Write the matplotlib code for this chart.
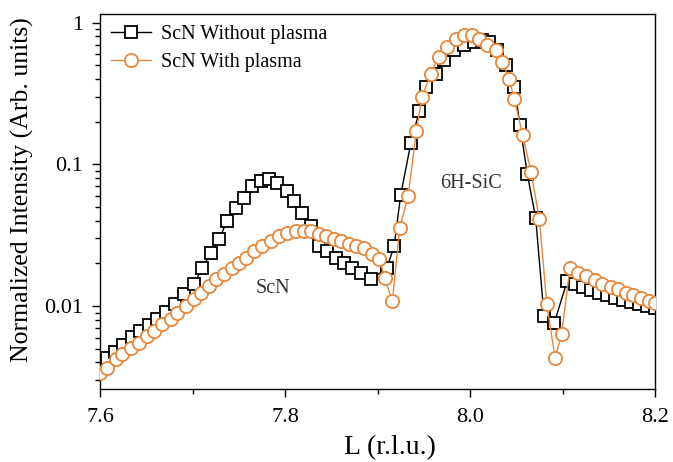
import matplotlib
matplotlib.use('Agg')
import matplotlib.pyplot as plt
from matplotlib.ticker import LogLocator, FixedLocator, NullFormatter

plt.rcParams['font.family'] = ['Liberation Serif', 'DejaVu Serif']

# ScN without plasma (black squares)
L_without = [7.600, 7.608, 7.616, 7.625, 7.635, 7.643, 7.653, 7.662, 7.671, 7.681,
             7.691, 7.702, 7.710, 7.720, 7.729, 7.737, 7.747, 7.756, 7.764, 7.774,
             7.783, 7.791, 7.802, 7.810, 7.818, 7.828, 7.837, 7.845, 7.855, 7.864,
             7.872, 7.882, 7.893,
             7.910, 7.918, 7.925, 7.936, 7.945, 7.952, 7.963, 7.972, 7.983, 7.994,
             8.004, 8.013, 8.021, 8.029, 8.039, 8.048, 8.054, 8.062, 8.071, 8.080,
             8.091, 8.105, 8.114, 8.122, 8.131, 8.139, 8.148, 8.157, 8.165, 8.174,
             8.183, 8.191, 8.200]
I_without = [0.00391, 0.00431, 0.00474, 0.00531, 0.00605, 0.00667, 0.00735, 0.00810, 0.00908, 0.01033,
             0.0122, 0.0143, 0.0185, 0.0236, 0.0296, 0.0397, 0.0490, 0.0576, 0.0700, 0.0759,
             0.0784, 0.0735, 0.0645, 0.0549, 0.0452, 0.0366, 0.0265, 0.0244, 0.0218, 0.0201,
             0.0185, 0.0171, 0.0155,
             0.0185, 0.0265, 0.0605, 0.141, 0.236, 0.354, 0.437, 0.549, 0.645, 0.700,
             0.735, 0.759, 0.735, 0.645, 0.506, 0.354, 0.188, 0.085, 0.0417, 0.00851,
             0.00759, 0.0150, 0.0143, 0.0136, 0.0130, 0.0124, 0.0119, 0.0114, 0.0110, 0.0107,
             0.0103, 0.0100, 0.0097]

# ScN with plasma (orange circles)
L_with = [7.600, 7.608, 7.617, 7.624, 7.634, 7.642, 7.651, 7.658, 7.667, 7.677,
          7.683, 7.693, 7.702, 7.709, 7.718, 7.725, 7.734, 7.743, 7.750, 7.758,
          7.766, 7.775, 7.785, 7.794, 7.802, 7.812, 7.821, 7.828, 7.837, 7.844,
          7.853, 7.861, 7.869, 7.877, 7.885, 7.894, 7.902, 7.908, 7.916,
          7.924, 7.933, 7.942, 7.948, 7.958, 7.966, 7.975, 7.985, 7.994, 8.002,
          8.010, 8.018, 8.028, 8.035, 8.042, 8.048, 8.057, 8.066, 8.075, 8.083,
          8.092, 8.099, 8.108, 8.117, 8.125, 8.135, 8.143, 8.152, 8.160, 8.169,
          8.176, 8.185, 8.194, 8.200]
I_with = [0.00337, 0.00366, 0.00423, 0.00459, 0.00506, 0.00549, 0.00615, 0.00667, 0.00747, 0.00810,
          0.00893, 0.0100, 0.0112, 0.0124, 0.0138, 0.0155, 0.0168, 0.0185, 0.0201, 0.0218,
          0.0244, 0.0265, 0.0287, 0.0311, 0.0327, 0.0338, 0.0338, 0.0338, 0.0321, 0.0311,
          0.0296, 0.0287, 0.0273, 0.0265, 0.0256, 0.0232, 0.0214, 0.0157, 0.0108,
          0.0354, 0.0595, 0.171, 0.301, 0.437, 0.576, 0.677, 0.771, 0.823, 0.823,
          0.771, 0.700, 0.645, 0.531, 0.403, 0.287, 0.160, 0.088, 0.0410, 0.0103,
          0.00430, 0.00635, 0.0185, 0.0171, 0.0163, 0.0152, 0.0143, 0.0136, 0.0132, 0.0124,
          0.0119, 0.0114, 0.0108, 0.0105]

orange = '#E8873A'

fig = plt.figure(figsize=(6.73, 4.62), dpi=100)
ax = fig.add_axes([0.1486, 0.158, 0.8247, 0.8117])

ax.plot(L_without, I_without, color='black', lw=1.0, marker='s', ms=8.5,
        mfc='white', mec='black', mew=1.3, label='ScN Without plasma', zorder=2)
ax.plot(L_with, I_with, color=orange, lw=1.0, marker='o', ms=9.5,
        mfc='white', mec=orange, mew=1.3, label='ScN With plasma', zorder=3)

ax.set_yscale('log')
ax.set_xlim(7.6, 8.2)
ax.set_ylim(0.0026, 1.15)

ax.set_xticks([7.6, 7.8, 8.0, 8.2])
ax.set_xticklabels(['7.6', '7.8', '8.0', '8.2'])
ax.xaxis.set_minor_locator(FixedLocator([7.7, 7.9, 8.1]))
ax.set_yticks([0.01, 0.1, 1])
ax.set_yticklabels(['0.01', '0.1', '1'])
ax.yaxis.set_minor_locator(LogLocator(base=10, subs=range(2, 10)))
ax.yaxis.set_minor_formatter(NullFormatter())

ax.tick_params(which='major', direction='out', length=6, width=1, labelsize=16)
ax.tick_params(which='minor', direction='out', length=3.5, width=1)
ax.tick_params(axis='x', which='major', pad=8)
ax.tick_params(axis='y', which='major', pad=6)
ax.tick_params(axis='x', which='both', top=False)
ax.tick_params(axis='y', which='both', right=False)
for s in ax.spines.values():
    s.set_linewidth(1.0)

ax.set_xlabel('L (r.l.u.)', fontsize=20, va='center')
ax.xaxis.set_label_coords(0.5225, -0.155)
ax.set_ylabel('Normalized Intensity (Arb. units)', fontsize=18.5, va='center')
ax.yaxis.set_label_coords(-0.14, 0.531)

ax.text(7.787, 0.0132, 'ScN', fontsize=14.5, ha='center', va='center', color='#333333')
ax.text(8.001, 0.0735, '6H-SiC', fontsize=14.5, ha='center', va='center', color='#333333')

ax.legend(loc='upper left', frameon=False, fontsize=14.5, handlelength=2.0,
          handletextpad=0.5, borderaxespad=0.15, labelspacing=0.45)

fig.savefig('out.png', dpi=100)
